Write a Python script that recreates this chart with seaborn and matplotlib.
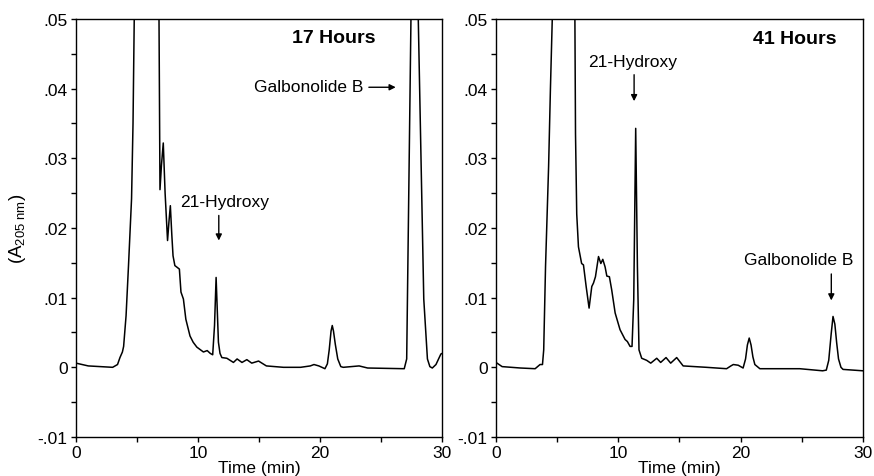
import matplotlib
matplotlib.use("Agg")
import matplotlib.pyplot as plt
import seaborn as sns
import pandas as pd
from matplotlib.ticker import MultipleLocator

# ---------------- data ----------------
panel_titles = ["17 Hours", "41 Hours"]

time_17h = [0.0, 1.0, 2.0, 3.0, 3.4, 3.6, 3.8, 3.9, 4.1, 4.3, 4.55, 4.67, 4.77, 5.8,
            6.8, 6.88, 7.0, 7.15, 7.3, 7.5, 7.62, 7.73, 7.85, 7.95, 8.1, 8.25, 8.47,
            8.6, 8.8, 9.0, 9.34, 9.6, 9.9, 10.44, 10.75, 11.0, 11.2, 11.35, 11.48,
            11.58, 11.67, 11.8, 11.95, 12.36, 12.9, 13.2, 13.6, 14.0, 14.4, 14.96,
            15.6, 17.0, 18.4, 19.2, 19.5, 19.9, 20.4, 20.6, 20.75, 20.9, 21.0, 21.1,
            21.25, 21.45, 21.7, 21.9, 23.2, 23.9, 26.9, 27.1, 27.45, 27.75, 28.05,
            28.5, 28.8, 29.0, 29.2, 29.5, 29.9, 30.0]
abs_17h = [0.0006, 0.0002, 0.0001, 0.0, 0.0004, 0.0014, 0.0022, 0.0030, 0.0074,
           0.0146, 0.0242, 0.035, 0.05, 0.12, 0.05, 0.0255, 0.0290, 0.0322, 0.0250,
           0.0182, 0.0210, 0.0232, 0.0190, 0.0160, 0.0146, 0.0144, 0.0141, 0.0108,
           0.0098, 0.0069, 0.0045, 0.0036, 0.0029, 0.0022, 0.0024, 0.0020, 0.0018,
           0.0060, 0.0129, 0.0080, 0.0036, 0.0020, 0.0014, 0.0013, 0.0007, 0.0012,
           0.0007, 0.0011, 0.0006, 0.0009, 0.0002, 0.0, 0.0, 0.0002, 0.0004, 0.0002,
           -0.0002, 0.0005, 0.0025, 0.0052, 0.0060, 0.0052, 0.0033, 0.0012, 0.0001,
           0.0, 0.0002, -0.0001, -0.0002, 0.0012, 0.05, 0.12, 0.05, 0.0098, 0.0012,
           0.0001, -0.0001, 0.0004, 0.0019, 0.0020]

time_41h = [0.0, 0.5, 2.0, 3.2, 3.6, 3.8, 3.9, 4.05, 4.3, 4.45, 4.6, 5.5, 6.45, 6.5,
            6.6, 6.74, 7.0, 7.15, 7.37, 7.61, 7.83, 7.97, 8.13, 8.38, 8.57, 8.73, 8.92,
            9.06, 9.27, 9.46, 9.74, 10.14, 10.55, 10.74, 10.96, 11.12, 11.26, 11.42,
            11.56, 11.69, 11.91, 12.32, 12.65, 13.14, 13.46, 13.9, 14.28, 14.77, 15.3,
            17.2, 18.85, 19.2, 19.4, 19.8, 20.2, 20.4, 20.55, 20.7, 20.85, 21.0, 21.16,
            21.57, 24.83, 26.7, 27.0, 27.2, 27.4, 27.55, 27.7, 27.85, 28.0, 28.2,
            28.37, 30.0]
abs_41h = [0.0007, 0.0001, -0.0001, -0.0002, 0.0004, 0.0004, 0.0025, 0.0145, 0.0288,
           0.040, 0.05, 0.12, 0.05, 0.0335, 0.0220, 0.0173, 0.0149, 0.0147, 0.0116,
           0.0085, 0.0116, 0.0121, 0.0130, 0.0159, 0.0149, 0.0155, 0.0144, 0.0131,
           0.0130, 0.0111, 0.0078, 0.0054, 0.0040, 0.0037, 0.0030, 0.0030, 0.0097,
           0.0343, 0.0145, 0.0025, 0.0013, 0.0010, 0.0006, 0.0013, 0.0007, 0.0014,
           0.0006, 0.0014, 0.0002, 0.0, -0.0002, 0.0002, 0.0004, 0.0003, -0.0001,
           0.0012, 0.0032, 0.0042, 0.0032, 0.0015, 0.0004, -0.0002, -0.0002, -0.0005,
           -0.0004, 0.0010, 0.0048, 0.0073, 0.0062, 0.0035, 0.0012, 0.0000, -0.0003,
           -0.0005]

x_ticks = [0, 10, 20, 30]
x_tick_labels = ["0", "10", "20", "30"]
y_ticks = [-0.01, 0.0, 0.01, 0.02, 0.03, 0.04, 0.05]
y_tick_labels = ["-.01", "0", ".01", ".02", ".03", ".04", ".05"]

# ---------------- style ----------------
sns.set_style("ticks")
plt.rcParams["font.family"] = ["Liberation Sans", "DejaVu Sans"]
plt.rcParams["mathtext.fontset"] = "custom"
plt.rcParams["mathtext.rm"] = "Liberation Sans"
plt.rcParams["mathtext.it"] = "Liberation Sans"
for key in ("text.color", "axes.labelcolor", "xtick.color", "ytick.color",
            "axes.edgecolor"):
    plt.rcParams[key] = "black"

FS = 12.5

fig = plt.figure(figsize=(8.74, 4.77), dpi=100)
ax1 = fig.add_axes([0.0870, 0.0818, 0.4188, 0.8763])
ax2 = fig.add_axes([0.5675, 0.0818, 0.4199, 0.8763])

df17 = pd.DataFrame({"Time": time_17h, "A": abs_17h})
df41 = pd.DataFrame({"Time": time_41h, "A": abs_41h})

for ax, df in ((ax1, df17), (ax2, df41)):
    sns.lineplot(data=df, x="Time", y="A", ax=ax, color="black", lw=1.1,
                 estimator=None, sort=False)
    ax.set_xlim(0, 30)
    ax.set_ylim(-0.01, 0.05)
    ax.set_xticks(x_ticks)
    ax.set_xticklabels(x_tick_labels)
    ax.set_yticks(y_ticks)
    ax.set_yticklabels(y_tick_labels)
    ax.xaxis.set_minor_locator(MultipleLocator(5))
    ax.yaxis.set_minor_locator(MultipleLocator(0.005))
    ax.tick_params(axis="both", which="both", direction="out", length=3.5,
                   width=1.0, color="black", labelsize=FS, labelcolor="black")
    ax.tick_params(axis="x", which="both", pad=2)
    ax.tick_params(axis="y", which="both", pad=2.5)
    for s in ax.spines.values():
        s.set_visible(True)
        s.set_color("black")
        s.set_linewidth(1.0)
    ax.set_xlabel("Time (min)", fontsize=FS, labelpad=0)
    ax.set_ylabel("")

ax1.set_ylabel(r"(A$_{\mathregular{205\ nm}}$)", fontsize=13.5, labelpad=7)

arrow_kw = dict(arrowstyle="-|>", lw=1.0, color="black", mutation_scale=9,
                shrinkA=0, shrinkB=0)

# left panel annotations
ax1.text(21.1, 0.0473, panel_titles[0], fontsize=14, fontweight="bold",
         ha="center", va="center")
ax1.text(19.1, 0.0403, "Galbonolide B", fontsize=FS, ha="center", va="center")
ax1.annotate("", xy=(26.2, 0.0402), xytext=(24.0, 0.0402), arrowprops=arrow_kw)
ax1.text(12.14, 0.0238, "21-Hydroxy", fontsize=FS, ha="center", va="center")
ax1.annotate("", xy=(11.7, 0.0182), xytext=(11.7, 0.0218), arrowprops=arrow_kw)

# right panel annotations
ax2.text(24.4, 0.0472, panel_titles[1], fontsize=14, fontweight="bold",
         ha="center", va="center")
ax2.text(11.15, 0.0439, "21-Hydroxy", fontsize=FS, ha="center", va="center")
ax2.annotate("", xy=(11.29, 0.0382), xytext=(11.29, 0.0420), arrowprops=arrow_kw)
ax2.text(24.75, 0.0155, "Galbonolide B", fontsize=FS, ha="center", va="center")
ax2.annotate("", xy=(27.41, 0.0096), xytext=(27.41, 0.0134), arrowprops=arrow_kw)

fig.savefig("out.png", dpi=100)
